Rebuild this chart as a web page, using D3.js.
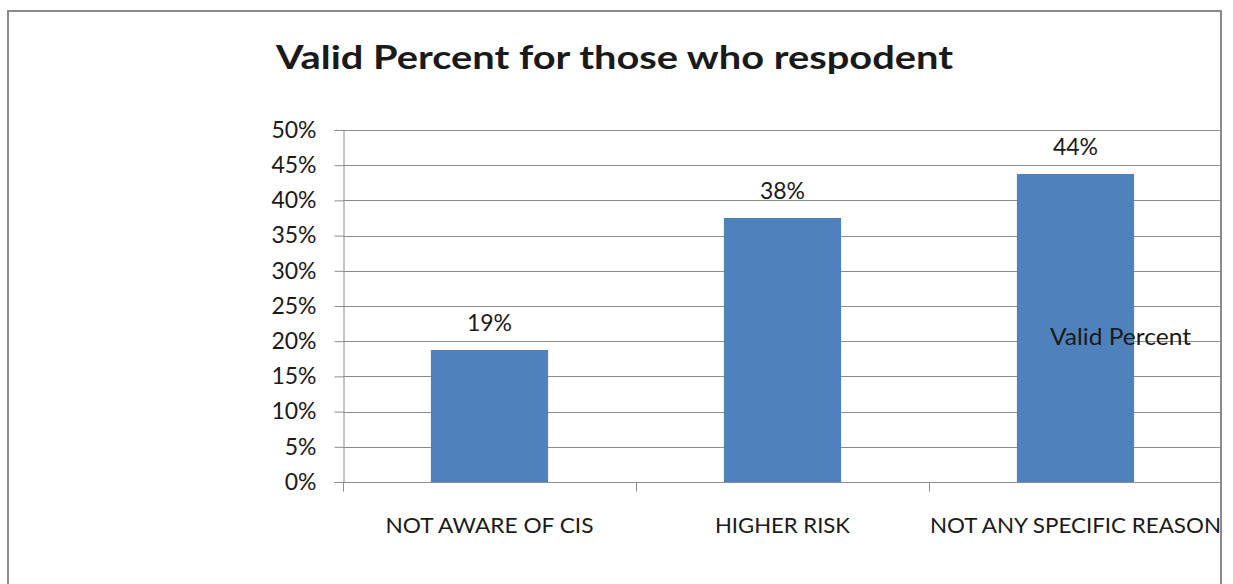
<!DOCTYPE html>
<html>
<head>
<meta charset="utf-8">
<script src="https://cdn.jsdelivr.net/npm/d3@7"></script>
<style>
  html, body { margin: 0; padding: 0; background: #fff; }
  svg { display: block; }
  text { font-family: Lato, "Open Sans", sans-serif; fill: #1a1a1a; }
</style>
</head>
<body>
<svg id="chart" width="1233" height="584"></svg>
<script>
// Survey responses (valid percent)
const categories = ["NOT AWARE OF CIS", "HIGHER RISK", "NOT ANY SPECIFIC REASON"];
const values = [0.1875, 0.375, 0.4375];
const yTicks = [0, 0.05, 0.10, 0.15, 0.20, 0.25, 0.30, 0.35, 0.40, 0.45, 0.50];
const title = "Valid Percent for those who respodent";
const seriesName = "Valid Percent";

const svg = d3.select("#chart");

const frame = { x: 8, y: 11, w: 1213, h: 600 };
const plot = { left: 343, right: 1222, top: 130, bottom: 482 };
const bandStep = 293;
const pct = d3.format(".0%");

svg.append("defs").append("clipPath").attr("id", "frameClip")
  .append("rect").attr("x", frame.x).attr("y", frame.y)
  .attr("width", frame.w).attr("height", frame.h);

const g = svg.append("g").attr("clip-path", "url(#frameClip)");

const xOuter = d3.scaleBand().domain(categories)
  .range([plot.left, plot.left + bandStep * categories.length]);
const x = d3.scaleBand().domain(categories)
  .range(xOuter.range())
  .paddingInner(0.6).paddingOuter(0.3);
const y = d3.scaleLinear().domain([0, 0.5]).range([plot.bottom, plot.top]);

// Horizontal gridlines
g.append("g").selectAll("line").data(yTicks.slice(1)).join("line")
  .attr("x1", plot.left).attr("x2", plot.right)
  .attr("y1", d => Math.round(y(d)) + 0.5).attr("y2", d => Math.round(y(d)) + 0.5)
  .attr("stroke", "#8c8c8c").attr("stroke-width", 1);

// Y axis
const yAxis = g.append("g").attr("transform", `translate(${plot.left + 0.5},0)`)
  .call(d3.axisLeft(y).tickValues(yTicks).tickFormat(pct)
    .tickSizeOuter(0).tickSize(9).tickPadding(18));
yAxis.select(".domain").attr("stroke", "#8c8c8c");
yAxis.selectAll(".tick line").attr("stroke", "#8c8c8c");
yAxis.selectAll(".tick text").attr("font-size", 23).attr("fill", "#1a1a1a")
  .style("font-family", "Lato, 'Open Sans', sans-serif");

// Bars
g.append("g").selectAll("rect").data(values).join("rect")
  .attr("x", (d, i) => x(categories[i]))
  .attr("width", x.bandwidth())
  .attr("y", d => y(d))
  .attr("height", d => y(0) - y(d))
  .attr("fill", "#4f81bd");

// X axis line, category ticks and labels
const xAxis = g.append("g").attr("transform", `translate(0,${plot.bottom + 0.5})`);
xAxis.append("line").attr("x1", plot.left).attr("x2", plot.right)
  .attr("stroke", "#8c8c8c");
xAxis.selectAll("line.tk")
  .data(categories.map(c => xOuter(c)).concat([xOuter.range()[1]]))
  .join("line").attr("class", "tk")
  .attr("x1", d => Math.round(d) + 0.5).attr("x2", d => Math.round(d) + 0.5)
  .attr("y1", 0).attr("y2", 9).attr("stroke", "#8c8c8c");
const catWidths = { "NOT AWARE OF CIS": 208, "HIGHER RISK": 135, "NOT ANY SPECIFIC REASON": 291 };
xAxis.selectAll("text").data(categories).join("text")
  .attr("x", d => xOuter(d) + xOuter.bandwidth() / 2)
  .attr("y", 50)
  .attr("text-anchor", "middle")
  .attr("font-size", 21)
  .attr("textLength", d => catWidths[d])
  .attr("lengthAdjust", "spacingAndGlyphs")
  .text(d => d);

// Value labels above bars
g.append("g").selectAll("text").data(values).join("text")
  .attr("x", (d, i) => x(categories[i]) + x.bandwidth() / 2)
  .attr("y", d => y(d) - 19)
  .attr("text-anchor", "middle")
  .attr("font-size", 23)
  .text(d => pct(d));

// Series name
g.append("text").attr("x", 1050).attr("y", 345)
  .attr("font-size", 23).attr("fill", "#111")
  .attr("textLength", 141).attr("lengthAdjust", "spacingAndGlyphs")
  .text(seriesName);

// Title
svg.append("text").attr("x", 276).attr("y", 69)
  .attr("font-size", 32).attr("font-weight", "bold").attr("fill", "#000")
  .attr("textLength", 677).attr("lengthAdjust", "spacingAndGlyphs")
  .text(title);

// Outer frame
svg.append("rect").attr("x", frame.x).attr("y", frame.y)
  .attr("width", frame.w).attr("height", frame.h)
  .attr("fill", "none").attr("stroke", "#8a8a8a").attr("stroke-width", 2);
</script>
</body>
</html>
